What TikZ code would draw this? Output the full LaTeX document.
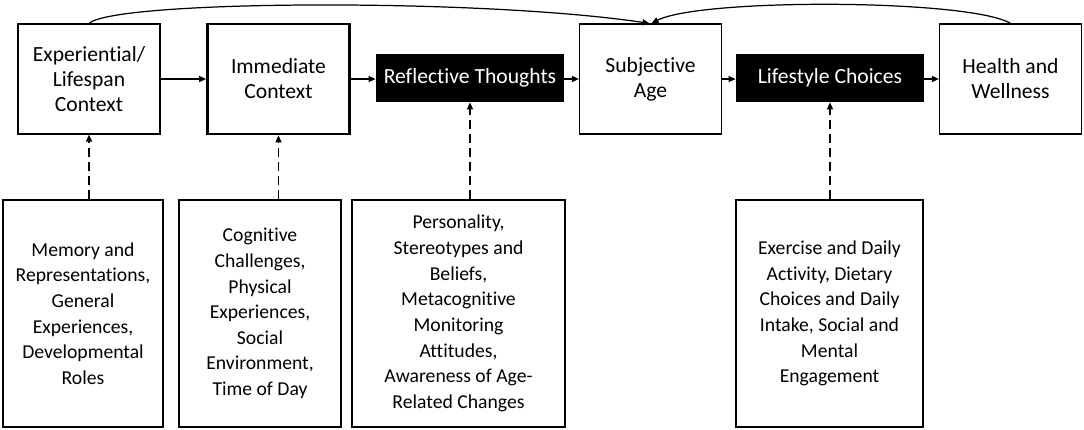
\documentclass[tikz,border=0pt]{standalone}
\usepackage{fontspec}
\setmainfont{Carlito}[Ligatures=NoCommon]
\usetikzlibrary{arrows.meta}

\begin{document}
\begin{tikzpicture}[x=0.02cm, y=-0.02cm,
    box/.style={draw, line width=0.7pt, align=center, inner sep=2pt,
        font=\fontsize{12.3}{14.2}\selectfont,
        minimum width=2.84cm, minimum height=2.2cm},
    blackbox/.style={fill=black, text=white, align=center, inner sep=2pt,
        font=\fontsize{12.3}{14.2}\selectfont,
        minimum width=3.76cm, minimum height=0.96cm},
    factorbox/.style={draw, line width=0.7pt, align=center, inner sep=2pt,
        font=\fontsize{11.2}{14.6}\selectfont, minimum height=4.54cm},
    arr/.style={line width=0.7pt, -{Triangle[length=0.14cm,width=0.12cm]}},
    dasharr/.style={arr, dash pattern=on 0.18cm off 0.1cm}]

    \useasboundingbox (0,0) rectangle (1084,429);

    \node[box] (expctx) at (89,79) {Experiential/\\Lifespan\\Context};
    \node[box, line width=1.6pt] (immctx) at (278.5,79) {Immediate\\Context};
    \node[blackbox] (reflect) at (470,78) {Reflective Thoughts};
    \node[box] (subjage) at (650.5,79) {Subjective\\Age};
    \node[blackbox] (lifestyle) at (830,78) {Lifestyle Choices};
    \node[box] (health) at (1010.5,79) {Health and\\Wellness};

    \node[factorbox, minimum width=3.2cm] (memory) at (83,313.5)
        {Memory and\\Representations,\\General\\Experiences,\\Developmental\\Roles};
    \node[factorbox, minimum width=3.24cm] (cognitive) at (260,313.5)
        {Cognitive\\Challenges,\\Physical\\Experiences,\\Social\\Environment,\\Time of Day};
    \node[factorbox, minimum width=4.26cm] (personality) at (458.5,313.5)
        {Personality,\\Stereotypes and\\Beliefs,\\Metacognitive\\Monitoring\\Attitudes,\\Awareness of Age-\\Related Changes};
    \node[factorbox, minimum width=3.74cm] (exercise) at (829.5,313.5)
        {Exercise and Daily\\Activity, Dietary\\Choices and Daily\\Intake, Social and\\Mental\\Engagement};

    \draw[arr] (expctx) -- (immctx);
    \draw[arr] (immctx) -- (immctx -| reflect.west);
    \draw[arr] (reflect.east |- subjage) -- (subjage);
    \draw[arr] (subjage) -- (subjage -| lifestyle.west);
    \draw[arr] (lifestyle.east |- health) -- (health);

    \draw[dasharr] (memory.north -| expctx) -- (expctx.south);
    \draw[dasharr] (cognitive.north -| immctx) -- (immctx.south);
    \draw[dasharr] (personality.north -| reflect) -- (reflect.south);
    \draw[dasharr] (exercise.north -| lifestyle) -- (lifestyle.south);

    \draw[arr] (expctx.north) .. controls (115,0) and (480,-2) .. ([xshift=-0.02cm]subjage.north);
    \draw[arr] (health.north) .. controls (970,-1) and (700,-2) .. ([xshift=0.02cm]subjage.north);

\end{tikzpicture}
\end{document}
